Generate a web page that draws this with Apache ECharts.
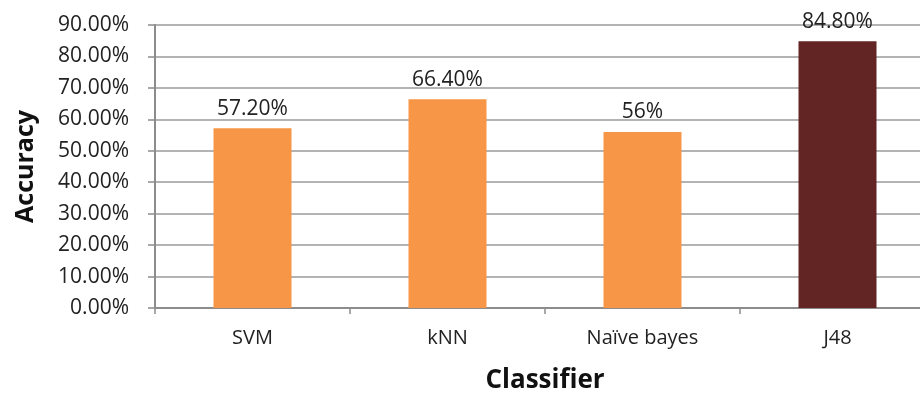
<!DOCTYPE html>
<html>
<head>
<meta charset="utf-8">
<script src="https://cdn.jsdelivr.net/npm/echarts@6/dist/echarts.min.js"></script>
<style>
  html, body { margin: 0; padding: 0; background: #fff; }
  #chart { width: 920px; height: 394px; }
</style>
</head>
<body>
<div id="chart"></div>
<script>
// Classifier accuracy (percent)
const categories = ['SVM', 'kNN', 'Naïve bayes', 'J48'];
const accuracy = [57.2, 66.4, 56, 84.8];
const valueLabels = ['57.20%', '66.40%', '56%', '84.80%'];
const barColors = ['#F79646', '#F79646', '#F79646', '#632523'];
const yTicks = { min: 0, max: 90, step: 10 };

const font = '"Open Sans", "Liberation Sans", sans-serif';
const chart = echarts.init(document.getElementById('chart'), null, { renderer: 'canvas' });

chart.setOption({
  animation: false,
  backgroundColor: '#ffffff',
  grid: {
    left: 155, top: 25, width: 780, height: 283,
    containLabel: false, outerBoundsMode: 'none'
  },
  xAxis: {
    type: 'category',
    data: categories,
    name: 'Classifier',
    nameLocation: 'middle',
    nameGap: 60,
    nameTextStyle: { fontFamily: font, fontWeight: 'bold', fontSize: 26, color: '#111' },
    axisLine: { lineStyle: { color: '#8c8c8c', width: 2 } },
    axisTick: { show: true, length: 6, lineStyle: { color: '#8c8c8c', width: 1.5 } },
    axisLabel: { fontFamily: font, fontSize: 20, color: '#222', margin: 20 }
  },
  yAxis: {
    type: 'value',
    min: yTicks.min,
    max: yTicks.max,
    interval: yTicks.step,
    name: 'Accuracy',
    nameLocation: 'middle',
    nameGap: 117,
    nameTextStyle: { fontFamily: font, fontWeight: 'bold', fontSize: 25, color: '#111' },
    axisLine: { show: true, lineStyle: { color: '#8c8c8c', width: 2 } },
    axisTick: { show: true, length: 7, lineStyle: { color: '#8c8c8c', width: 1.5 } },
    axisLabel: {
      fontFamily: font, fontSize: 21, color: '#222', margin: 26,
      formatter: v => v.toFixed(2) + '%'
    },
    splitLine: { show: true, lineStyle: { color: '#9a9a9a', width: 1.5 } }
  },
  series: [{
    type: 'bar',
    barWidth: '40%',
    data: accuracy.map((v, i) => ({ value: v, itemStyle: { color: barColors[i] } })),
    label: {
      show: true,
      position: 'top',
      distance: 9,
      fontFamily: font,
      fontSize: 21,
      color: '#222',
      formatter: p => valueLabels[p.dataIndex]
    }
  }]
});
</script>
</body>
</html>
